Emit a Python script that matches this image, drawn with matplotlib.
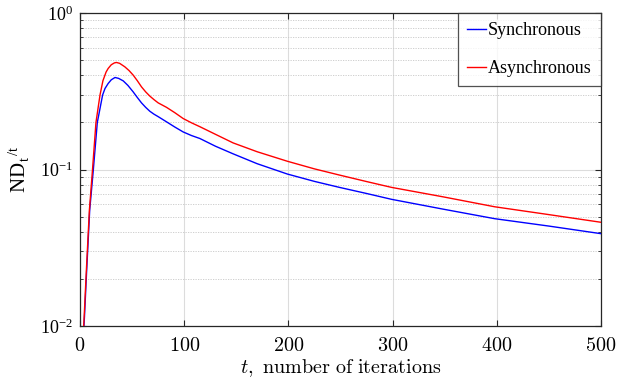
import matplotlib
matplotlib.use("Agg")
import matplotlib.pyplot as plt
from matplotlib.ticker import NullFormatter, LogLocator

plt.rcParams['font.family'] = ['Liberation Serif', 'DejaVu Serif']
plt.rcParams['mathtext.fontset'] = 'cm'

# Asynchronous (red)
t_async = [3, 4, 6, 9, 12, 15.3, 19.2, 22, 25, 27, 30, 33, 35, 38, 43, 47, 51, 55,
           59, 63, 67, 71, 75, 83, 91, 99, 107, 115, 130, 147, 170, 199, 225, 249,
           275, 299, 348, 398, 450, 500]
v_async = [0.0085, 0.0115, 0.022, 0.055, 0.1, 0.2, 0.3, 0.37, 0.42, 0.443, 0.468,
           0.481, 0.484, 0.478, 0.454, 0.43, 0.402, 0.37, 0.338, 0.314, 0.295,
           0.28, 0.267, 0.25, 0.231, 0.212, 0.199, 0.188, 0.168, 0.148, 0.13,
           0.113, 0.101, 0.0922, 0.0838, 0.0769, 0.067, 0.0578, 0.0515, 0.046]

# Synchronous (blue)
t_sync = [3.2, 4.3, 6.3, 9.3, 12.8, 16.6, 21.7, 24, 27, 30, 33.6, 37, 41.5, 46, 51,
          55, 59, 63, 67, 71, 75, 83, 91, 99, 107, 115, 130, 147, 170, 199, 225,
          249, 275, 299, 348, 398, 450, 500]
v_sync = [0.0085, 0.0115, 0.022, 0.055, 0.1, 0.2, 0.3, 0.33, 0.355, 0.375, 0.388,
          0.383, 0.369, 0.345, 0.314, 0.289, 0.267, 0.25, 0.236, 0.226, 0.218,
          0.202, 0.187, 0.174, 0.165, 0.158, 0.141, 0.126, 0.109, 0.0936, 0.084,
          0.0769, 0.0703, 0.0645, 0.0559, 0.0485, 0.0435, 0.0389]

x_ticks = [0, 100, 200, 300, 400, 500]
y_ticks = [0.01, 0.1, 1.0]
y_ticklabels = [r'$\mathregular{10^{-2}}$', r'$\mathregular{10^{-1}}$', r'$\mathregular{10^{0}}$']

fig = plt.figure(figsize=(6.3, 3.88), dpi=100)
ax = fig.add_axes([0.127, 0.160, 0.827, 0.806])

ax.plot(t_sync, v_sync, color=(0, 0, 1), lw=1.0, label='Synchronous', zorder=3)
ax.plot(t_async, v_async, color=(1, 0, 0), lw=1.0, label='Asynchronous', zorder=3)

ax.set_yscale('log')
ax.set_xlim(0, 500)
ax.set_ylim(0.01, 1.0)
ax.set_xticks(x_ticks)
ax.set_xticklabels([r'$\mathrm{%d}$' % v for v in x_ticks], fontsize=14.5)
ax.set_yticks(y_ticks)
ax.set_yticklabels(y_ticklabels, fontsize=13)
ax.yaxis.set_minor_locator(LogLocator(base=10, subs=range(2, 10)))
ax.yaxis.set_minor_formatter(NullFormatter())

ax.tick_params(which='both', direction='in', top=True, right=True, color='#262626')
ax.tick_params(which='major', length=4, width=0.8)
ax.tick_params(which='minor', length=2.5, width=0.6)
ax.tick_params(axis='x', pad=8)
ax.tick_params(axis='y', pad=5)

ax.grid(True, which='major', color='#dcdcdc', lw=0.8, ls='-')
ax.grid(True, which='minor', axis='y', color='#c8c8c8', lw=0.6, ls=(0, (1.5, 1.5)))
ax.set_axisbelow(True)
for s in ax.spines.values():
    s.set_color('#262626')
    s.set_linewidth(0.9)

ax.set_xlabel(r'$t\mathrm{,\ number\ of\ iterations}$', fontsize=14.5, labelpad=1)
ax.set_ylabel(r'ND$_\mathregular{t}$$^\mathregular{/t}$', fontsize=15, labelpad=6)

leg = ax.legend(loc='upper right', fontsize=13, frameon=True, fancybox=False,
                handlelength=1.1, handletextpad=0.1, borderaxespad=0,
                labelspacing=1.15, borderpad=0.5)
leg.get_frame().set_edgecolor('#262626')
leg.get_frame().set_linewidth(0.9)

fig.savefig('out.png', dpi=100)
